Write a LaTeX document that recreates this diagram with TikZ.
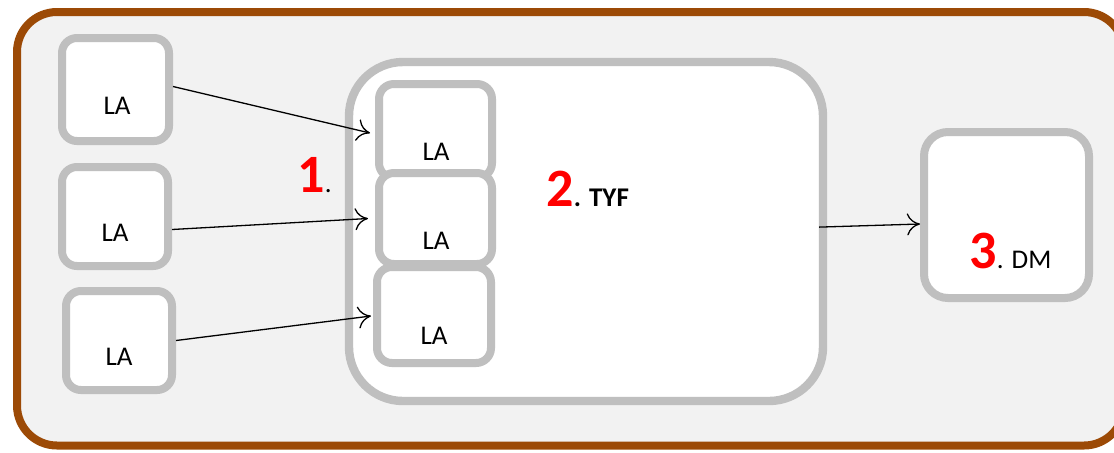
\documentclass[tikz,border=0pt]{standalone}
\usepackage{fontspec}
\setmainfont{Carlito}
\usetikzlibrary{shadows,arrows.meta}
\definecolor{framebrown}{HTML}{9C4A06}
\definecolor{boxgray}{HTML}{BFBFBF}
\definecolor{bgfill}{HTML}{F2F2F2}
\begin{document}
\begin{tikzpicture}[x=0.5pt,y=-0.5pt,
  box/.style={draw=boxgray, line width=4pt, fill=white, rounded corners=7.5pt,
    drop shadow={opacity=0.25, shadow xshift=0.8pt, shadow yshift=-0.8pt}, inner sep=0pt},
  latext/.style={font=\fontsize{13.5}{16}\selectfont, inner sep=0pt},
  conn/.style={line width=0.65pt, -{To[length=6.5pt,width=11pt]}},
]
\useasboundingbox (0,0) rectangle (1114,452);
\begin{scope}
\clip (0,0) rectangle (1114,452);
\draw[draw=framebrown, line width=4pt, fill=bgfill, rounded corners=20pt]
  (17,12) rectangle (1124,445.5);
\end{scope}
% left boxes
\node[box, minimum width=53.5pt, minimum height=51.5pt] (l1) at (115.5,89.5) {};
\node[box, minimum width=53pt, minimum height=49.5pt] (l2) at (115,216.5) {};
\node[box, minimum width=53pt, minimum height=49.5pt] (l3) at (119,340.5) {};
\node[latext] (t1) at (117,106) {LA};
\node[latext] (t2) at (115,233) {LA};
\node[latext] (t3) at (119,357) {LA};
% big TYF box
\node[box, line width=4.2pt, rounded corners=27pt, minimum width=237pt, minimum height=169.5pt] (tyf) at (586,231.5) {};
% inner boxes
\node[box, minimum width=56.5pt, minimum height=47pt] (a) at (435.5,131) {};
\node[box, minimum width=56.5pt, minimum height=45.5pt] (b) at (435.5,218.5) {};
\node[box, minimum width=57pt, minimum height=48pt] (c) at (434,315) {};
\node[latext] (ta) at (436,152) {LA};
\node[latext] (tb) at (436,241) {LA};
\node[latext] (tc) at (434,336) {LA};
% DM box
\node[box, rounded corners=12pt, minimum width=82.5pt, minimum height=83pt] (dm) at (1006.5,215) {};
% labels
\node[inner sep=0pt, anchor=base west] (n1) at (297,192) {\textcolor{red}{\fontsize{27}{30}\selectfont\bfseries 1}\fontsize{13.5}{16}\selectfont .};
\node[inner sep=0pt, anchor=base west] (n2) at (546,206) {\textcolor{red}{\fontsize{27}{30}\selectfont\bfseries 2}\fontsize{13.5}{16}\selectfont\bfseries . TYF};
\node[inner sep=0pt, anchor=base west] (n3) at (969,268) {\textcolor{red}{\fontsize{27}{30}\selectfont\bfseries 3}\fontsize{13.5}{16}\selectfont . DM};
% connectors
\draw[conn] ([yshift=1.5pt]l1.east) -- ([xshift=-2.5pt,yshift=-1pt]a.west);
\draw[conn] ([yshift=-6.5pt]l2.east) -- ([xshift=-3.5pt]b.west);
\draw[conn] (l3.east) -- ([xshift=-1pt,yshift=-0.5pt]c.west);
\draw[conn] ([xshift=-4pt,yshift=2.2pt]tyf.east) -- ([yshift=-4.5pt]dm.west);
\end{tikzpicture}
\end{document}
